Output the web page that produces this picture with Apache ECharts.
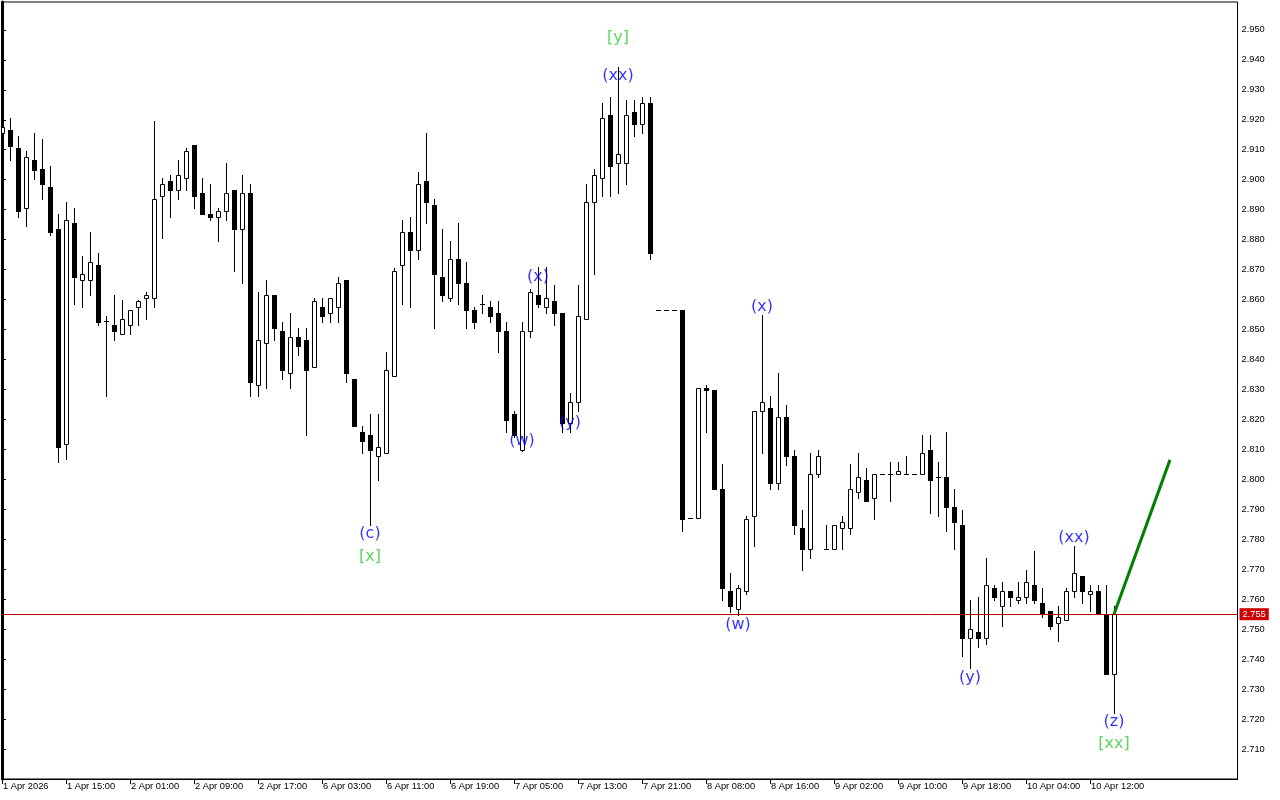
<!DOCTYPE html>
<html>
<head>
<meta charset="utf-8">
<script src="https://cdn.jsdelivr.net/npm/echarts@6/dist/echarts.min.js"></script>
<style>
html,body{margin:0;padding:0;background:#fff;}
#chart{width:1280px;height:800px;}
</style>
</head>
<body>
<div id="chart"></div>
<script>
// ---- data (hourly bars, index 0..139) ----
var opens = [2.9156,2.9167,2.9106,2.8906,2.9066,2.9036,2.8976,2.8836,2.8119,2.8856,
2.8666,2.8666,2.8716,2.8527,2.8516,2.8486,2.8516,2.8576,2.8606,2.8604,
2.8946,2.8996,2.8966,2.9006,2.9116,2.8956,2.8886,2.8874,2.8896,2.8966,
2.8834,2.8956,2.8314,2.8454,2.8616,2.8496,2.8354,2.8476,2.8466,2.8374,
2.8576,2.8556,2.8576,2.8666,2.8334,2.8159,2.8149,2.8078,2.8088,2.8344,
2.8716,2.8826,2.8766,2.8996,2.8916,2.8676,2.8606,2.8736,2.8656,2.8566,
2.8586,2.8576,2.8556,2.8496,2.8219,2.8098,2.8496,2.8616,2.8576,2.8596,
2.8556,2.8189,2.8259,2.8536,2.8926,2.9006,2.9217,2.9056,2.9056,2.9227,
2.9186,2.9257,2.8566,2.8566,2.8566,2.8566,2.7870,2.7870,2.8306,2.8299,
2.7969,2.7629,2.7568,2.7628,2.7879,2.8229,2.8239,2.7989,2.8209,2.8078,
2.7838,2.7769,2.8019,2.7769,2.7769,2.7838,2.7838,2.7959,2.7999,2.7939,
2.8019,2.8019,2.8019,2.8019,2.8019,2.8019,2.8099,2.8009,2.8009,2.7909,
2.7849,2.7469,2.7489,2.7469,2.7639,2.7579,2.7629,2.7599,2.7609,2.7649,
2.7589,2.7559,2.7519,2.7529,2.7629,2.7679,2.7619,2.7629,2.7549,2.7349];
var highs = [2.9205,2.9206,2.9147,2.9097,2.9157,2.9137,2.9047,2.8887,2.8926,2.8906,
2.8747,2.8826,2.8756,2.8546,2.8616,2.8597,2.8566,2.8597,2.8626,2.9197,
2.9006,2.9016,2.9066,2.9106,2.9116,2.9006,2.8986,2.8906,2.9057,2.8966,
2.9016,2.8986,2.8626,2.8666,2.8616,2.8526,2.8556,2.8506,2.8506,2.8606,
2.8606,2.8606,2.8676,2.8666,2.8334,2.8178,2.8219,2.8219,2.8424,2.8706,
2.8867,2.8876,2.9026,2.9157,2.8936,2.8836,2.8796,2.8856,2.8726,2.8576,
2.8616,2.8596,2.8596,2.8526,2.8229,2.8526,2.8636,2.8707,2.8707,2.8647,
2.8556,2.8289,2.8647,2.8987,2.9036,2.9257,2.9277,2.9377,2.9267,2.9267,
2.9277,2.9277,2.8566,2.8566,2.8566,2.8566,2.7870,2.8306,2.8316,2.8299,
2.8050,2.7689,2.7649,2.7879,2.8229,2.8548,2.8279,2.8356,2.8249,2.8098,
2.7899,2.8089,2.8098,2.7848,2.7848,2.7879,2.8050,2.8089,2.8039,2.8019,
2.8019,2.8059,2.8059,2.8079,2.8019,2.8149,2.8149,2.8059,2.8159,2.7969,
2.7899,2.7599,2.7609,2.7739,2.7649,2.7659,2.7629,2.7659,2.7699,2.7760,
2.7639,2.7559,2.7579,2.7639,2.7779,2.7679,2.7649,2.7649,2.7649,2.7579];
var lows = [2.9135,2.9065,2.8876,2.8844,2.9003,2.8934,2.8814,2.8058,2.8068,2.8584,
2.8574,2.8614,2.8514,2.8279,2.8464,2.8485,2.8486,2.8514,2.8534,2.8574,
2.8804,2.8874,2.8934,2.8966,2.8904,2.8884,2.8864,2.8794,2.8864,2.8694,
2.8654,2.8279,2.8279,2.8304,2.8464,2.8334,2.8304,2.8414,2.8148,2.8374,
2.8524,2.8524,2.8524,2.8324,2.8178,2.8088,2.7847,2.7998,2.8088,2.8344,
2.8584,2.8574,2.8736,2.8856,2.8504,2.8594,2.8594,2.8584,2.8504,2.8504,
2.8556,2.8524,2.8424,2.8159,2.8140,2.8095,2.8476,2.8576,2.8556,2.8516,
2.8159,2.8159,2.8229,2.8536,2.8684,2.8946,2.8946,2.8956,2.8986,2.9146,
2.9156,2.8736,2.8566,2.8566,2.8566,2.7828,2.7870,2.7870,2.8158,2.7969,
2.7598,2.7558,2.7548,2.7618,2.7778,2.8088,2.7969,2.7969,2.8048,2.7818,
2.7699,2.7739,2.8008,2.7769,2.7769,2.7769,2.7818,2.7939,2.7929,2.7869,
2.8019,2.7929,2.8019,2.8019,2.8019,2.8019,2.7889,2.7879,2.7829,2.7769,
2.7409,2.7369,2.7439,2.7449,2.7599,2.7509,2.7579,2.7589,2.7589,2.7589,
2.7539,2.7499,2.7459,2.7529,2.7609,2.7589,2.7559,2.7549,2.7349,2.7219];
var closes = [2.9176,2.9114,2.8894,2.9076,2.9034,2.8984,2.8824,2.8108,2.8866,2.8674,
2.8686,2.8726,2.8524,2.8527,2.8494,2.8536,2.8566,2.8596,2.8616,2.8937,
2.8986,2.8966,2.9016,2.9096,2.8944,2.8884,2.8874,2.8896,2.8956,2.8834,
2.8956,2.8324,2.8466,2.8616,2.8504,2.8364,2.8476,2.8444,2.8364,2.8596,
2.8544,2.8606,2.8656,2.8354,2.8178,2.8128,2.8098,2.8108,2.8364,2.8696,
2.8826,2.8766,2.8986,2.8926,2.8686,2.8616,2.8736,2.8656,2.8564,2.8524,
2.8586,2.8544,2.8494,2.8199,2.8149,2.8496,2.8626,2.8586,2.8606,2.8556,
2.8189,2.8259,2.8546,2.8926,2.9016,2.9207,2.9046,2.9086,2.9217,2.9186,
2.9257,2.8756,2.8566,2.8566,2.8566,2.7869,2.7870,2.8306,2.8299,2.7969,
2.7638,2.7578,2.7639,2.7869,2.8229,2.8259,2.7989,2.8209,2.8078,2.7848,
2.7769,2.8018,2.8078,2.7769,2.7848,2.7858,2.7969,2.8009,2.7929,2.8019,
2.8019,2.8019,2.8029,2.8019,2.8019,2.8089,2.7999,2.8009,2.7909,2.7859,
2.7469,2.7499,2.7469,2.7649,2.7609,2.7629,2.7609,2.7609,2.7659,2.7599,
2.7549,2.7509,2.7539,2.7629,2.7689,2.7629,2.7629,2.7549,2.7349,2.7550];

var xTickBars = [0,8,16,24,32,40,48,56,64,72,80,88,96,104,112,120,128,136];
var xTickLabels = ['1 Apr 2026','1 Apr 15:00','2 Apr 01:00','2 Apr 09:00','2 Apr 17:00','6 Apr 03:00',
'6 Apr 11:00','6 Apr 19:00','7 Apr 05:00','7 Apr 13:00','7 Apr 21:00','8 Apr 08:00','8 Apr 16:00',
'9 Apr 02:00','9 Apr 10:00','9 Apr 18:00','10 Apr 04:00','10 Apr 12:00'];
var yTicks = [2.71,2.72,2.73,2.74,2.75,2.76,2.77,2.78,2.79,2.80,2.81,2.82,2.83,2.84,2.85,2.86,2.87,2.88,2.89,2.90,2.91,2.92,2.93,2.94,2.95];

var lastPrice = 2.755;
var lastBar = 139;

var waveNames  = ['(c)','[x]','[y]','(xx)','(x)','(w)','(y)','(x)','(w)','(y)','(xx)','(z)','[xx]'];
var waveBars   = [46,46,77,77,67,65,71,95,92,121,134,139,139];
var wavePrices = [2.7818,2.7741,2.9473,2.9346,2.8676,2.8128,2.8188,2.8575,2.7514,2.7337,2.7804,2.7190,2.7117];
var waveKinds  = ['minor','major','major','minor','minor','minor','minor','minor','minor','minor','minor','minor','major'];

var projBars   = [139,146];
var projPrices = [2.755,2.8065];

// ---- build ----
var candleData = opens.map(function(o,i){ return [i, o, closes[i], lows[i], highs[i]]; });
var waveData = waveNames.map(function(n,i){
  return {value:[waveBars[i], wavePrices[i]], name:n,
    label:{color: waveKinds[i]==='major' ? '#33cc33' : '#0000ff'}};
});
var projData = projBars.map(function(b,i){ return [b, projPrices[i]]; });

function renderCandle(params, api){
  var i = api.value(0), o = api.value(1), c = api.value(2), l = api.value(3), h = api.value(4);
  var pO = api.coord([i,o]), pC = api.coord([i,c]), pL = api.coord([i,l]), pH = api.coord([i,h]);
  var x = Math.round(pO[0]);
  var yTop = Math.round(Math.min(pO[1], pC[1])), yBot = Math.round(Math.max(pO[1], pC[1]));
  var yH = Math.round(pH[1]), yL = Math.round(pL[1]);
  var ch = [{type:'rect', shape:{x:x, y:yH, width:1, height:Math.max(1,yL-yH+1)}, style:{fill:'#000'}}];
  if (yBot - yTop < 1) {
    ch.push({type:'rect', shape:{x:x-2, y:yTop, width:5, height:1}, style:{fill:'#000'}});
  } else if (c < o) {
    ch.push({type:'rect', shape:{x:x-2, y:yTop, width:5, height:yBot-yTop+1}, style:{fill:'#000'}});
  } else {
    ch.push({type:'rect', shape:{x:x-1.5, y:yTop+0.5, width:4, height:yBot-yTop}, style:{fill:'#fff', stroke:'#000', lineWidth:1}});
  }
  return {type:'group', children:ch};
}

var chart = echarts.init(document.getElementById('chart'), null, {renderer:'canvas'});
var fontAxis = 'Liberation Sans';
chart.setOption({
  animation:false,
  backgroundColor:'#ffffff',
  grid:{left:2, top:2, right:42.5, bottom:21, show:true, borderColor:'#000', borderWidth:1, backgroundColor:'#fff'},
  xAxis:{
    type:'value', min:0, max:154.44,
    axisLine:{show:true, onZero:false, lineStyle:{color:'#000', width:1}},
    axisTick:{show:true, inside:false, length:5, lineStyle:{color:'#000'}, customValues:xTickBars},
    axisLabel:{show:true, customValues:xTickBars, align:'left', margin:3, padding:[0,0,0,1],
      color:'#000', fontFamily:fontAxis, fontSize:9.3,
      formatter:function(v){ var k = xTickBars.indexOf(v); return k>=0 ? xTickLabels[k] : ''; }},
    splitLine:{show:false}
  },
  yAxis:{
    type:'value', position:'right', min:2.700, max:2.9593, scale:true,
    axisLine:{show:true, lineStyle:{color:'#000', width:3}},
    axisTick:{show:true, inside:false, length:4, lineStyle:{color:'#000'}, customValues:yTicks},
    axisLabel:{show:true, customValues:yTicks, margin:4, color:'#000', fontFamily:fontAxis, fontSize:9.3,
      formatter:function(v){ return v.toFixed(3); }},
    splitLine:{show:false}
  },
  series:[
    {
      type:'line', name:'price', data:[[lastBar, lastPrice]], symbol:'none', z:1,
      lineStyle:{width:0},
      markLine:{
        silent:true, symbol:['none','none'], animation:false, precision:3,
        lineStyle:{color:'#b40000', width:1, type:'solid'},
        label:{show:true, position:'end', distance:2, formatter:function(){ return lastPrice.toFixed(3); },
          color:'#fff', backgroundColor:'#cc0000', padding:[2,3,1,3], fontFamily:fontAxis, fontSize:9.3},
        data:[{yAxis:lastPrice}]
      }
    },
    {
      type:'custom', name:'bars', renderItem:renderCandle, data:candleData, clip:true,
      encode:{x:0, y:[1,2,3,4]}, z:3
    },
    {
      type:'line', name:'projection', data:projData, symbol:'none', z:4,
      lineStyle:{color:'#008000', width:3}
    },
    {
      type:'scatter', name:'waves', data:waveData, symbolSize:0, z:5,
      label:{show:true, position:'inside', fontFamily:'DejaVu Sans', fontSize:16,
        formatter:function(p){ return p.name; }}
    }
  ]
});
</script>
</body>
</html>
